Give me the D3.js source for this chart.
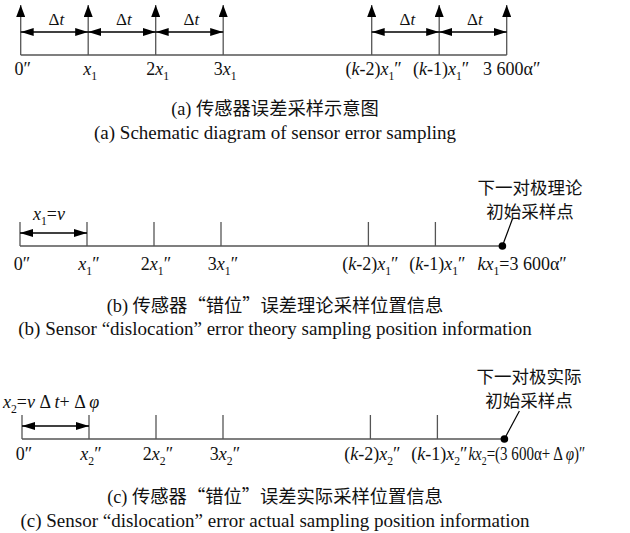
<!DOCTYPE html>
<html lang="zh">
<head>
<meta charset="UTF-8">
<title>传感器误差采样示意图</title>
<script src="https://d3js.org/d3.v7.min.js"></script>
<style>
  body { margin: 0; background: #fff; }
  text { font-family: "Liberation Serif", "Times New Roman", "Noto Sans CJK SC", serif; fill: #111; }
  .cjk { font-family: "Noto Sans CJK SC", sans-serif; }
</style>
</head>
<body>
<svg width="630" height="533"></svg>
<script>
// sample slots along each axis, in steps of x (0, 1, 2, 3, ..., k-2, k-1, k)
const slots = [0, 1, 2, 3, 5.2, 6.2, 7.2];

// tick labels: [text, kind]  kind: "i" italic, "s" subscript
const labelsA = [
  [["0″"]],
  [["x", "i"], ["1", "s"]],
  [["2"], ["x", "i"], ["1", "s"]],
  [["3"], ["x", "i"], ["1", "s"]],
  [["("], ["k", "i"], ["-2)"], ["x", "i"], ["1", "s"], ["″"]],
  [["("], ["k", "i"], ["-1)"], ["x", "i"], ["1", "s"], ["″"]],
  [["3 600α″"]]
];
const labelsB = [
  [["0″"]],
  [["x", "i"], ["1", "s"], ["″"]],
  [["2"], ["x", "i"], ["1", "s"], ["″"]],
  [["3"], ["x", "i"], ["1", "s"], ["″"]],
  [["("], ["k", "i"], ["-2)"], ["x", "i"], ["1", "s"], ["″"]],
  [["("], ["k", "i"], ["-1)"], ["x", "i"], ["1", "s"], ["″"]],
  [["k", "i"], ["x", "i"], ["1", "s"], ["=3 600α″"]]
];
const labelsC = [
  [["0″"]],
  [["x", "i"], ["2", "s"], ["″"]],
  [["2"], ["x", "i"], ["2", "s"], ["″"]],
  [["3"], ["x", "i"], ["2", "s"], ["″"]],
  [["("], ["k", "i"], ["-2)"], ["x", "i"], ["2", "s"], ["″"]],
  [["("], ["k", "i"], ["-1)"], ["x", "i"], ["2", "s"], ["″"]],
  [["k", "i"], ["x", "i"], ["2", "s"], ["=(3 600α+ Δ "], ["φ", "i"], [")″"]]
];

// Δt intervals in panel a (pairs of slot indexes)
const intervalsA = [[0, 1], [1, 2], [2, 3], [4, 5], [5, 6]];
const deltaLabel = [["Δ"], ["t", "i"]];

// first-step spans in panels b and c
const spanB = [["x", "i"], ["1", "s"], ["="], ["v", "i"]];
const spanC = [["x", "i"], ["2", "s"], ["="], ["v", "i"], [" Δ "], ["t", "i"], ["+ Δ "], ["φ", "i"]];

// callouts at the next pole pair
const noteB = ["下一对极理论", "初始采样点"];
const noteC = ["下一对极实际", "初始采样点"];

// captions [prefix, chinese] and english
const captionsCn = [["(a) ", "传感器误差采样示意图"], ["(b) ", "传感器“错位”误差理论采样位置信息"], ["(c) ", "传感器“错位”误差实际采样位置信息"]];
const captionsEn = [
  "(a) Schematic diagram of sensor error sampling",
  "(b) Sensor “dislocation” error theory sampling position information",
  "(c) Sensor “dislocation” error actual sampling position information"
];

const svg = d3.select("svg");
const axisColor = "#555";

const defs = svg.append("defs");
defs.append("marker")
  .attr("id", "head-h")
  .attr("markerUnits", "userSpaceOnUse")
  .attr("markerWidth", 13).attr("markerHeight", 8)
  .attr("refX", 13).attr("refY", 4)
  .attr("orient", "auto-start-reverse")
  .append("path").attr("d", "M0,0L13,4L0,8Z").attr("fill", "#000");
defs.append("marker")
  .attr("id", "head-v")
  .attr("markerUnits", "userSpaceOnUse")
  .attr("markerWidth", 12).attr("markerHeight", 9)
  .attr("refX", 12).attr("refY", 4.5)
  .attr("orient", "auto")
  .append("path").attr("d", "M0,0L12,4.5L0,9Z").attr("fill", "#000");

// rich text helper: italic and subscript segments
function rich(sel, segs, size) {
  let low = false;
  segs.forEach(([t, kind]) => {
    const ts = sel.append("tspan").text(t);
    if (kind === "s") {
      ts.attr("font-size", size * 0.65).attr("dy", low ? 0 : 5);
      low = true;
    } else {
      ts.attr("font-size", size);
      if (low) { ts.attr("dy", -5); low = false; }
      if (kind === "i") ts.attr("font-style", "italic");
    }
  });
  return sel;
}

function tickLabels(g, x, labels, y, lastShift, lastAnchor, lastLength) {
  labels.forEach((segs, i) => {
    const last = i === labels.length - 1;
    const lx = x(slots[i]) + (last ? lastShift : 2);
    if (last && lastLength) {
      // squeeze the long end label horizontally, like the narrow original
      const wrap = g.append("g");
      const t = wrap.append("text").attr("text-anchor", "start");
      rich(t, segs, 18);
      const k = lastLength / t.node().getComputedTextLength();
      wrap.attr("transform", `translate(${lx},${y}) scale(${k},1)`);
      return;
    }
    const t = g.append("text")
      .attr("x", lx)
      .attr("y", y)
      .attr("text-anchor", last ? lastAnchor : "middle");
    rich(t, segs, 18);
  });
}

// ---- panel (a)
{
  const g = svg.append("g");
  const x = d3.scaleLinear().domain([0, 7.2]).range([20.7, 20.7 + 7.2 * 67.5]);
  const y0 = 55;
  g.append("line")
    .attr("x1", x(slots[0])).attr("x2", x(slots[6]))
    .attr("y1", y0).attr("y2", y0)
    .attr("stroke", axisColor).attr("stroke-width", 1.3);
  g.selectAll(".up").data(slots).join("line")
    .attr("x1", d => x(d)).attr("x2", d => x(d))
    .attr("y1", y0).attr("y2", 5)
    .attr("stroke", axisColor).attr("stroke-width", 1.3)
    .attr("marker-end", "url(#head-v)");
  intervalsA.forEach(([a, b]) => {
    g.append("line")
      .attr("x1", x(slots[a])).attr("x2", x(slots[b]))
      .attr("y1", 32).attr("y2", 32)
      .attr("stroke", "#000").attr("stroke-width", 1.3)
      .attr("marker-start", "url(#head-h)").attr("marker-end", "url(#head-h)");
    const t = g.append("text")
      .attr("x", (x(slots[a]) + x(slots[b])) / 2 + 2)
      .attr("y", 25).attr("text-anchor", "middle");
    rich(t, deltaLabel, 17);
  });
  tickLabels(g, x, labelsA, 75, 5, "middle");
}

// ---- panels (b) and (c)
function markedAxis(cfg) {
  const g = svg.append("g");
  const x = d3.scaleLinear().domain([0, 7.2]).range([cfg.x0, cfg.x0 + 7.2 * 67]);
  const y0 = cfg.y;
  g.append("line")
    .attr("x1", x(slots[0])).attr("x2", x(slots[6]))
    .attr("y1", y0).attr("y2", y0)
    .attr("stroke", axisColor).attr("stroke-width", 1.3);
  g.selectAll(".tick").data(slots.slice(0, 6)).join("line")
    .attr("x1", d => x(d)).attr("x2", d => x(d))
    .attr("y1", y0).attr("y2", y0 - 24)
    .attr("stroke", axisColor).attr("stroke-width", 1.3);
  // first step span
  g.append("line")
    .attr("x1", x(slots[0])).attr("x2", x(slots[1]))
    .attr("y1", y0 - 13).attr("y2", y0 - 13)
    .attr("stroke", "#000").attr("stroke-width", 1.3)
    .attr("marker-start", "url(#head-h)").attr("marker-end", "url(#head-h)");
  const st = g.append("text").attr("x", cfg.spanX).attr("y", cfg.spanY);
  rich(st, cfg.span, 18);
  // next pole pair point with callout
  const px = x(slots[6]);
  g.append("line")
    .attr("x1", px).attr("y1", y0)
    .attr("x2", px + cfg.lead[0]).attr("y2", y0 + cfg.lead[1])
    .attr("stroke", "#000").attr("stroke-width", 1.2);
  g.append("circle").attr("cx", px).attr("cy", y0).attr("r", 3.8).attr("fill", "#000");
  cfg.note.forEach((s, i) => {
    g.append("text").attr("class", "cjk")
      .attr("x", cfg.noteX).attr("y", cfg.noteY[i])
      .attr("text-anchor", "middle").attr("font-size", 17.5)
      .text(s);
  });
  tickLabels(g, x, cfg.labels, cfg.labelY, cfg.lastShift, "start", cfg.lastLength);
}

markedAxis({ x0: 20, y: 246, labels: labelsB, labelY: 270, lastShift: -25,
  span: spanB, spanX: 33, spanY: 220,
  note: noteB, noteX: 530, noteY: [194, 218], lead: [10, -27] });
markedAxis({ x0: 22, y: 439, labels: labelsC, labelY: 460, lastShift: -36, lastLength: 117,
  span: spanC, spanX: 3, spanY: 408,
  note: noteC, noteX: 529, noteY: [383, 407], lead: [15, -28] });

// ---- captions
const cnY = [115, 312, 503], enY = [139, 335, 527];
captionsCn.forEach(([p, c], i) => {
  const t = svg.append("text").attr("x", 275).attr("y", cnY[i])
    .attr("text-anchor", "middle").attr("font-size", 18.3);
  t.append("tspan").text(p);
  t.append("tspan").attr("class", "cjk").text(c);
});
captionsEn.forEach((s, i) => {
  svg.append("text").attr("x", 275).attr("y", enY[i])
    .attr("text-anchor", "middle").attr("font-size", 19)
    .text(s);
});
</script>
</body>
</html>
